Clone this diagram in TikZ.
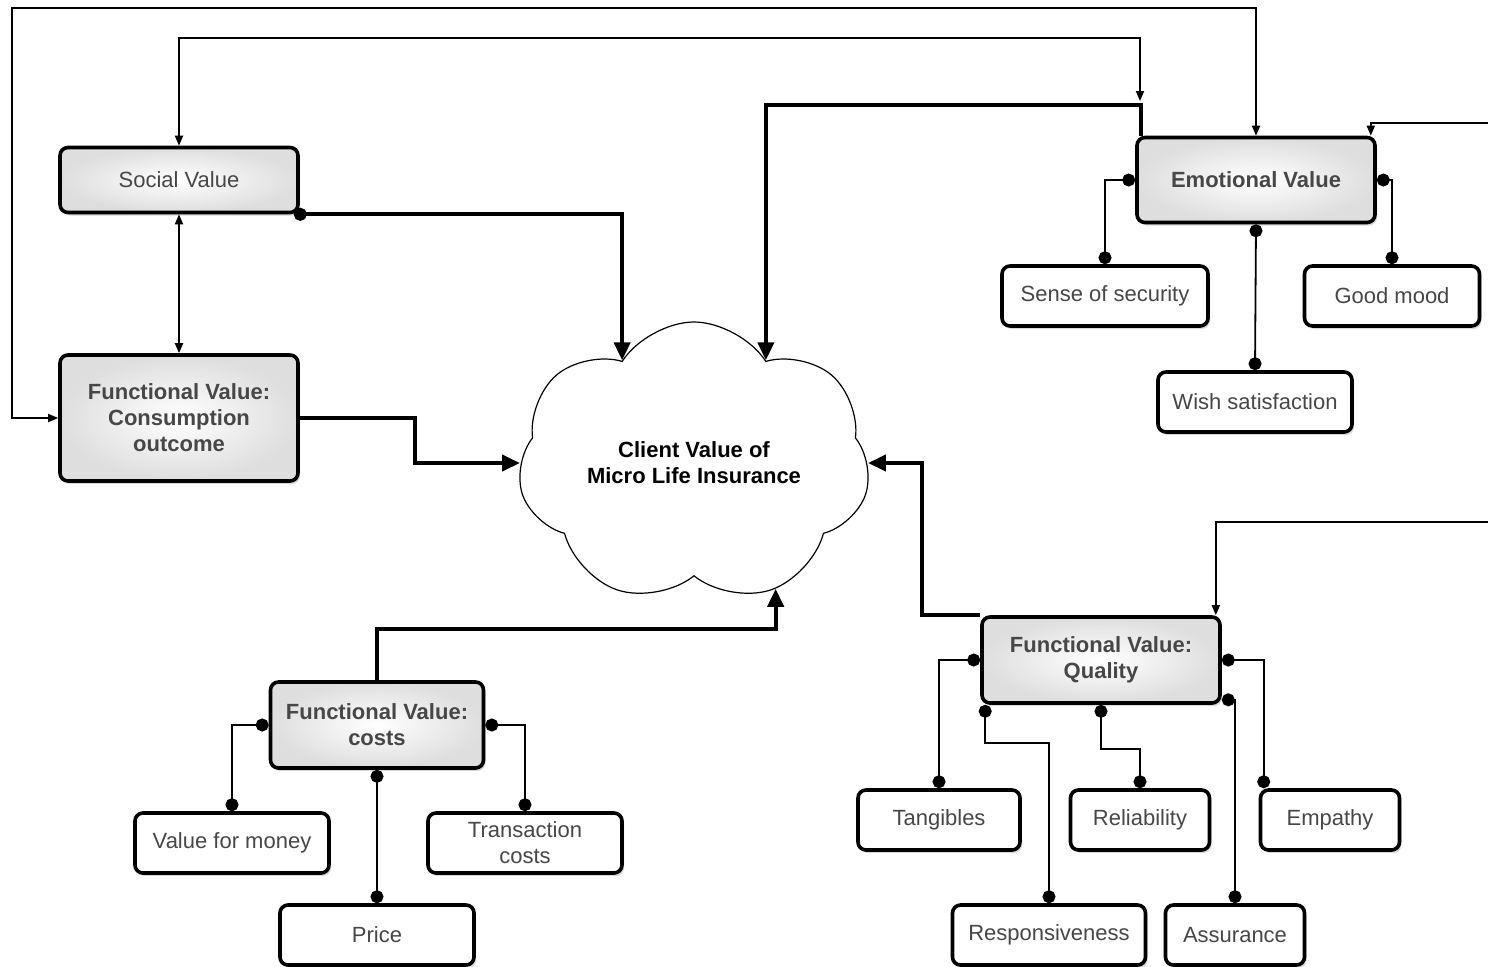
\documentclass[tikz,border=0pt]{standalone}
\usepackage{fontspec}
\setmainfont{Liberation Sans}
\usetikzlibrary{arrows.meta,shapes.symbols,shadows,calc}

\tikzset{
  box/.style={draw=black, line width=1.8pt, rounded corners=4pt, align=center,
    text=black!72, font=\fontsize{11}{13}\selectfont, inner sep=2pt, fill=white,
    drop shadow={opacity=0.3, shadow xshift=1pt, shadow yshift=-1.5pt}},
  valuebox/.style={box, shading=radial, inner color=white, outer color=black!13,
    font=\fontsize{11}{13}\selectfont\bfseries},
  leaf/.style={box, minimum height=30pt},
  flow/.style={line width=2pt, -{Triangle[length=9pt,width=8pt]}},
  feed/.style={line width=0.9pt},
  link/.style={line width=0.9pt, {Circle[length=6.5pt]}-{Circle[length=6.5pt]}},
}

\begin{document}
\begin{tikzpicture}[x=0.5pt, y=-0.5pt, >={Triangle[length=5pt,width=4pt]}]
  \useasboundingbox (0,0) rectangle (1488,966);

  % value dimensions
  \node[valuebox, font=\fontsize{11}{13}\selectfont, minimum width=119pt, minimum height=32.5pt] (soc) at (179,180) {Social Value};
  \node[valuebox, minimum width=119pt, minimum height=63pt] (cons) at (179,418) {Functional Value:\\Consumption\\outcome};
  \node[valuebox, minimum width=119pt, minimum height=42.5pt] (emo) at (1256,180) {Emotional Value};
  \node[valuebox, minimum width=106.5pt, minimum height=43pt] (cost) at (377,725) {Functional Value:\\costs};
  \node[valuebox, minimum width=119pt, minimum height=43pt] (qual) at (1101,660) {Functional Value:\\Quality};

  \node[cloud, draw, fill=white, line width=0.6pt, cloud puffs=7, cloud puff arc=115, cloud ignores aspect,
        minimum width=176pt, minimum height=141pt, align=center, inner sep=0pt,
        font=\fontsize{11}{13}\selectfont\bfseries] (cv) at (694,463) {Client Value of\\Micro Life Insurance};

  % items
  \foreach \nm/\x/\y/\w/\txt in {
      sec/1105/296/103/Sense of security,
      mood/1392/296/87.5/Good mood,
      wish/1255/402/97/Wish satisfaction,
      vfm/232/843/97/Value for money,
      trans/525/843/97/{Transaction\\costs},
      price/377/935/97/Price,
      tang/939/820/81/Tangibles,
      rel/1140/820/69.5/Reliability,
      emp/1330/820/69.5/Empathy,
      resp/1049/935/96.5/Responsiveness,
      assu/1235/935/69.5/Assurance} {
    \node[leaf, minimum width=\w pt] (\nm) at (\x,\y) {\txt};
  }

  \coordinate (tl) at (12,8);
  \coordinate (tm) at (1140,101);
  \coordinate (r1) at (1488,123);
  \coordinate (r2) at (1488,522);

  % thin feedback lines
  \draw[feed, <->] (cons.west) -| (tl) -| (emo.north);
  \draw[feed, <->] (soc.north) -- ++(0,-108) -| (tm);
  \draw[feed, <->] (soc.south) -- (cons.north);
  \draw[feed, ->] (r1) -| ($(emo.north east)+(-6,0)$);
  \draw[feed, ->] (r2) -| ($(qual.north east)+(-6,0)$);

  % into the cloud
  \draw[flow, {Circle[length=6.5pt]}-{Triangle[length=9pt,width=8pt]}] ($(soc.south east)+(-6,0)$) -| (cv.125);
  \draw[flow] (cons.east) -- ++(115,0) |- (cv.180);
  \draw[flow] ($(emo.north west)+(6,0)$) -- ++(0,-31) -| (cv.55);
  \draw[flow] (qual.north west) -- ++(-58,0) |- (cv.0);
  \draw[flow] (cost.north) -- ++(0,-51) -| (cv.303);

  % items to dimensions
  \foreach \a/\b in {emo.west/sec.north, emo.east/mood.north, cost.west/vfm.north,
      cost.east/trans.north, qual.west/tang.north}
    \draw[link] (\a) -| (\b);
  \draw[link] (emo.south) -- (wish.north);
  \draw[link] (cost.south) -- (price.north);
  \draw[link] (qual.east) -| ($(emp.north west)+(5,0)$);
  \draw[link] ($(qual.south west)+(5,0)$) -- ++(0,38) -| (resp.north);
  \draw[link] (qual.south) -- ++(0,44) -| (rel.north);
  \draw[link] ($(qual.south east)+(0,-5)$) -| (assu.north);
\end{tikzpicture}
\end{document}
